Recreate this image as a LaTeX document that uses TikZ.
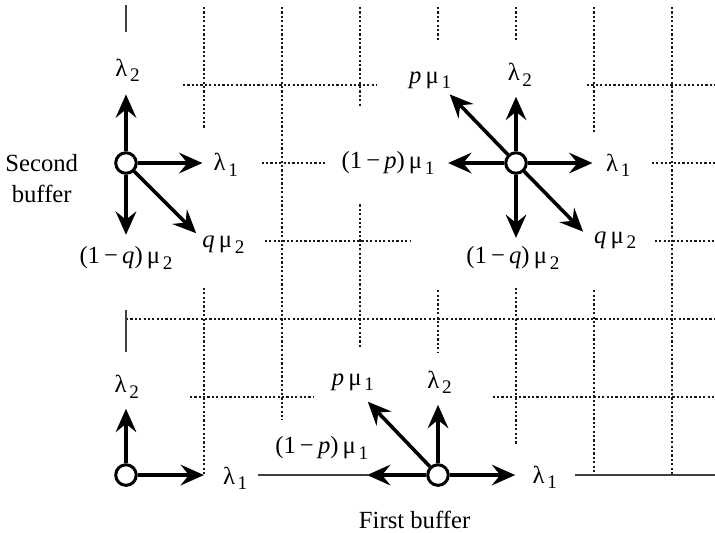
\documentclass[tikz,border=0pt]{standalone}
\usepackage{fontspec}
\setmainfont{Liberation Serif}
\usetikzlibrary{arrows.meta}
\newcommand{\lowsub}[1]{\kern1pt\raisebox{-0.5ex}{\fontsize{7}{7}\selectfont #1}}

\begin{document}
\begin{tikzpicture}[x=1cm, y=1cm,
  state/.style={circle, draw, line width=1.1pt, fill=white, minimum size=7.5pt, inner sep=0pt},
  rate/.style={font=\fontsize{9}{11}\selectfont, inner sep=1pt, align=center},
  flow/.style={line width=1.3pt, -{Stealth[length=8.5pt, width=7.5pt, inset=3pt]}},
  gridline/.style={line width=0.5pt, dash pattern=on 0.8pt off 0.8pt, black!90},
  axisline/.style={line width=0.6pt, black!75},
]
\useasboundingbox (-1.615,-0.731) rectangle (7.551,6.09);

% dotted grid, broken where the rates sit
\foreach \x/\a/\b in {1/6/4.45, 1/2.4/0, 2/6/0.7, 3/6/4.72, 3/3.47/1.63, 4/6/5.58, 4/2.37/1.58,
                      5/6/5.58, 5/2.4/0.38, 6/6/4.38, 6/2.37/0, 7/6/0}
  \draw[gridline] (\x,\a) -- (\x,\b);
\foreach \y/\a/\b in {5/0.73/3.22, 5/5.91/7.55, 4/1.74/2.58, 4/6.74/7.55, 3/1.78/3.64, 3/6.78/7.55,
                      2/0/7.55, 1/0.82/2.4, 1/4.7/7.55}
  \draw[gridline] (\a,\y) -- (\b,\y);

% boundary axes
\draw[axisline] (0,6.03) -- (0,5.68) (0,2.12) -- (0,1.58);
\draw[axisline] (1.69,0) -- (3.1,0) (5.76,0) -- (7.55,0);

% interior of second buffer axis
\node[state] (a) at (0,4) {};
\coordinate (a-n) at (0,4.88);
\coordinate (a-e) at (0.98,4);
\coordinate (a-s) at (0,3.08);
\coordinate (a-se) at (0.9,3.1);
\foreach \t in {a-n, a-e, a-s, a-se}
  \draw[flow] (a) -- (\t);
\node[rate] (a-lam2) at (0.02,5.19) {λ\lowsub{2}};
\node[rate] (a-lam1) at (1.28,3.98) {λ\lowsub{1}};
\node[rate] (a-qmu) at (1.25,2.95) {\textit{q}\,μ\lowsub{2}};
\node[rate] (a-rmu) at (0,2.78) {(1\,−\,\textit{q})\,μ\lowsub{2}};
\node[rate] (second) at (-1.08,3.8) {Second\\buffer};

% interior state
\node[state] (b) at (5,4) {};
\coordinate (b-n) at (5,4.85);
\coordinate (b-nw) at (4.15,4.88);
\coordinate (b-w) at (4.13,4);
\coordinate (b-e) at (5.98,4);
\coordinate (b-s) at (5,3.04);
\coordinate (b-se) at (5.86,3.12);
\foreach \t in {b-n, b-nw, b-w, b-e, b-s, b-se}
  \draw[flow] (b) -- (\t);
\node[rate] (b-lam2) at (5.05,5.13) {λ\lowsub{2}};
\node[rate] (b-pmu) at (3.9,5.06) {\textit{p}\,μ\lowsub{1}};
\node[rate] (b-rpmu) at (3.36,4) {(1\,−\,\textit{p})\,μ\lowsub{1}};
\node[rate] (b-lam1) at (6.31,3.97) {λ\lowsub{1}};
\node[rate] (b-qmu) at (6.27,3.01) {\textit{q}\,μ\lowsub{2}};
\node[rate] (b-rqmu) at (4.96,2.78) {(1\,−\,\textit{q})\,μ\lowsub{2}};

% empty system
\node[state] (c) at (0,0) {};
\coordinate (c-n) at (0,0.85);
\coordinate (c-e) at (1.0,0);
\foreach \t in {c-n, c-e}
  \draw[flow] (c) -- (\t);
\node[rate] (c-lam2) at (0.01,1.13) {λ\lowsub{2}};
\node[rate] (c-lam1) at (1.4,-0.04) {λ\lowsub{1}};

% first buffer axis
\node[state] (d) at (4,0) {};
\coordinate (d-n) at (4,0.9);
\coordinate (d-nw) at (3.1,0.94);
\coordinate (d-w) at (3.09,0);
\coordinate (d-e) at (4.99,0);
\foreach \t in {d-n, d-nw, d-w, d-e}
  \draw[flow] (d) -- (\t);
\node[rate] (d-lam2) at (4.02,1.19) {λ\lowsub{2}};
\node[rate] (d-pmu) at (2.91,1.19) {\textit{p}\,μ\lowsub{1}};
\node[rate] (d-rpmu) at (2.51,0.35) {(1\,−\,\textit{p})\,μ\lowsub{1}};
\node[rate] (d-lam1) at (5.37,-0.03) {λ\lowsub{1}};
\node[rate] (first) at (3.7,-0.58) {First buffer};
\end{tikzpicture}
\end{document}
